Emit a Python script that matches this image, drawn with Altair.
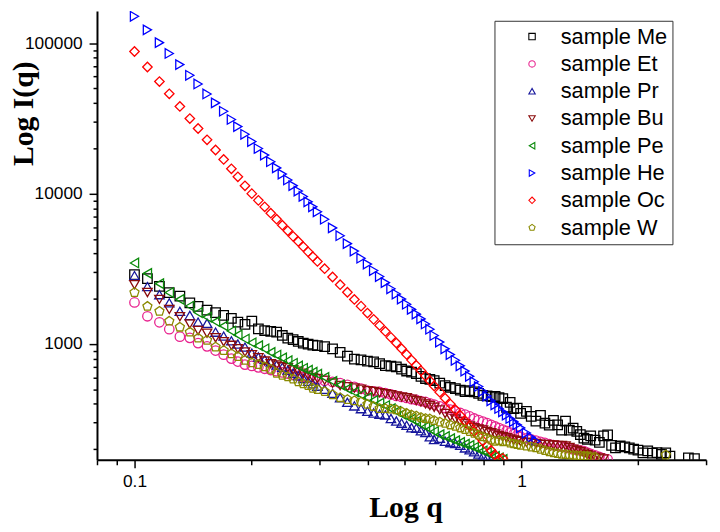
import altair as alt
import pandas as pd

# q grid shared by all samples (log q axis)
Q = [0.100, 0.108, 0.116, 0.123, 0.131, 0.139, 0.146, 0.154, 0.162, 0.170, 0.178, 0.185, 0.193,
     0.201, 0.209, 0.217, 0.225, 0.233, 0.241, 0.249, 0.257, 0.265, 0.273, 0.281, 0.289, 0.297,
     0.310, 0.325, 0.340, 0.355, 0.370, 0.385, 0.400, 0.415, 0.430, 0.445,
     0.460, 0.475, 0.490, 0.505, 0.520, 0.535, 0.550, 0.565, 0.580, 0.595,
     0.615, 0.635, 0.655, 0.675, 0.695, 0.715, 0.735, 0.755, 0.775, 0.795,
     0.815, 0.835, 0.855, 0.875, 0.895, 0.915, 0.935, 0.955, 0.975, 0.995,
     1.03, 1.06, 1.09, 1.12, 1.15, 1.18, 1.21, 1.24, 1.27, 1.30,
     1.33, 1.36, 1.39, 1.42, 1.45, 1.48, 1.51, 1.55, 1.59, 1.63,
     1.67, 1.71, 1.75, 1.80, 1.85, 1.90, 1.95, 2.00, 2.06, 2.12,
     2.18, 2.24, 2.30, 2.36, 2.42, 2.50, 2.60, 2.70, 2.80]

ME = [2890, 2720, 2420, 2200, 2080, 1880, 1780, 1680, 1620, 1550, 1480, 1400, 1350,
      1420, 1260, 1230, 1215, 1200, 1140, 1095, 1070, 1040, 1015, 1000, 985, 975,
      960, 930, 880, 830, 795, 785, 770, 762, 740, 718,
      712, 705, 680, 662, 650, 636, 610, 590, 582, 572,
      550, 530, 516, 506, 494, 483, 490, 481, 470, 456,
      452, 447, 448, 440, 434, 380, 410, 372, 375, 346,
      357, 330, 307, 336, 298, 289, 311, 290, 268, 307,
      268, 276, 263, 250, 237, 232, 245, 230, 222, 245,
      249, 212, 204, 210, 207, 204, 200, 197, 189, 195,
      188, 190, 185, 189, 180, None, None, 175, 173]

ET = [1890, 1530, 1395, 1255, 1120, 1100, 1015, 965, 905, 850, 800, 765, 730,
      715, 700, 685, 672, 660, 648, 636, 625, 615, 605, 596, 588, 580,
      570, 560, 550, 535, 520, 505, 490, 485, 480, 472,
      462, 452, 445, 438, 430, 425, 418, 412, 403, 396,
      385, 375, 366, 357, 348, 340, 330, 320, 312, 305,
      298, 290, 283, 276, 270, 264, 258, 252, 247, 242,
      236, 232, 228, 224, 220, 216, 213, 211, 209, 206,
      203, 200, 198, 196, 194, 190, 186, 182, 178, 174,
      171]

PR = [2850, 2410, 2130, 1880, 1650, 1550, 1400, 1375, 1200, 1130, 1050, 1000, 955,
      870, 820, 790, 760, 725, 700, 670, 640, 615, 590, 565, 545, 525,
      500, 470, 440, 410, 388, 372, 357, 348, 342, 338,
      320, 308, 298, 288, 278, 276, 265, 258, 242, 232,
      236, 226, 221, 218, 212, 204, 198, 192, 186, 180,
      175, 171]

BU = [2480, 2200, 1980, 1700, 1520, 1360, 1230, 1180, 1100, 1035, 980, 930, 885,
      850, 810, 770, 740, 725, 708, 695, 675, 660, 640, 620, 600, 590,
      575, 550, 530, 520, 510, 500, 490, 484, 475, 468,
      460, 452, 445, 440, 430, 420, 412, 400, 390, 380,
      365, 345, 330, 318, 305, 295, 285, 278, 272, 268,
      262, 257, 252, 247, 242, 238, 234, 230, 228, 225,
      222, 220, 218, 216, 215, 214, 213, 212, 212, 210,
      205, 200, 196, 192, 188, 184, 180, 177, 175, 172]

PE = [3460, 2950, 2520, 2200, 1980, 1790, 1620, 1510, 1410, 1320, 1220, 1150, 1080,
      1020, 975, 930, 880, 845, 810, 775, 745, 715, 690, 670, 650, 630,
      600, 565, 535, 505, 480, 460, 440, 422, 405, 390,
      372, 357, 342, 330, 318, 306, 293, 282, 272, 262,
      250, 243, 235, 228, 222, 216, 212, 206, 200, 195,
      190, 184, 179, 175, 171]

HE = [151000, 122700, 100900, 85500, 72100, 61200, 53600, 46000, 40100, 35300, 31100, 27900, 24800,
      22200, 19950, 18030, 16300, 14830, 13490, 12330, 11300, 10400, 9580, 8820, 8170, 7570,
      6760, 5920, 5250, 4650, 4150, 3720, 3400, 3080, 2810, 2560,
      2330, 2150, 1990, 1840, 1700, 1580, 1470, 1360, 1255, 1140,
      1030, 929, 851, 780, 716, 661, 610, 562, 522, 485,
      451, 419, 394, 373, 354, 337, 320, 305, 291, 277,
      256, 240, 226]

OC = [88100, 69500, 55600, 46100, 38000, 31550, 27100, 22800, 19500, 16870, 14620, 12940, 11270,
      10000, 9020, 8170, 7410, 6760, 6170, 5660, 5200, 4810, 4440, 4100, 3810, 3540,
      3170, 2790, 2480, 2210, 1980, 1786, 1607, 1459, 1330, 1213,
      1107, 1016, 931, 853, 782, 721, 665, 614, 570, 526,
      479, 436, 399, 366, 335, 309, 285, 263, 245, 227,
      211, 196, 183, 171, 174]

W = [2200, 1780, 1650, 1420, 1295, 1200, 1095, 1060, 956, 905, 862, 825, 780,
     750, 730, 705, 680, 640, 620, 605, 585, 562, 545, 530, 508, 498,
     483, 460, 440, 428, 420, 412, 398, 385, 373, 372,
     370, 365, 355, 346, 338, 332, 325, 320, 318, 310,
     303, 297, 290, 284, 277, 270, 262, 255, 248, 242,
     236, 230, 226, 228, 224, 226, 220, 217, 215, 212,
     210, 207, 204, 200, 196, 192, 189, 187, 185, 184,
     183, 182, 181, 181, 180, 180, 178, 177, None, None,
     None, None, None, None, None, None, None, None, None, None,
     None, None, None, 183]

SERIES = ["sample Me", "sample Et", "sample Pr", "sample Bu",
          "sample Pe", "sample He", "sample Oc", "sample W"]
VALUES = [ME, ET, PR, BU, PE, HE, OC, W]
COLORS = ["#000000", "#e8238f", "#16169c", "#8b0c0c", "#0b8a0b", "#0000ff", "#ff0000", "#8a8a00"]
PENTAGON = "M0,-1L0.951,-0.309L0.588,0.809L-0.588,0.809L-0.951,-0.309Z"
SHAPES = ["square", "circle", "triangle-up", "triangle-down",
          "triangle-left", "triangle-right", "diamond", PENTAGON]

X_TICKS = [0.08, 0.09, 0.1, 0.2, 0.3, 0.4, 0.5, 0.6, 0.7, 0.8, 0.9, 1, 2, 3]
Y_TICKS = [200, 300, 400, 500, 600, 700, 800, 900,
           1000, 2000, 3000, 4000, 5000, 6000, 7000, 8000, 9000,
           10000, 20000, 30000, 40000, 50000, 60000, 70000, 80000, 90000, 100000]

rows = []
for name, vals in zip(SERIES, VALUES):
    for q, v in zip(Q, vals):
        if v is not None:
            rows.append({"q": q, "I": v, "series": name})
df = pd.DataFrame(rows)

major_x = "datum.value == 0.1 || datum.value == 1"
major_y = "datum.value == 1000 || datum.value == 10000 || datum.value == 100000"

common_axis = dict(
    domainColor="black", domainWidth=2, tickColor="black", tickWidth=1.5,
    labelFont="Liberation Sans", labelFontSize=17.5, labelColor="black",
    labelOverlap=False, labelFlush=False, grid=False,
    titleFont="Liberation Serif", titleFontWeight="bold", titleFontSize=30, titleColor="black",
)

x_axis = alt.Axis(
    values=X_TICKS,
    labelExpr=f"({major_x}) ? '' + datum.value : ''",
    tickSize={"condition": {"test": major_x, "value": 8}, "value": 5},
    labelPadding=5,
    title="Log q", titleX=312, titleY=57, titleAlign="center", titleBaseline="alphabetic",
    **common_axis,
)

y_axis = alt.Axis(
    values=Y_TICKS,
    labelExpr=f"({major_y}) ? '' + datum.value : ''",
    tickSize={"condition": {"test": major_y, "value": 8}, "value": 4},
    labelPadding=7,
    title="Log I(q)", titleAngle=270, titleX=-89, titleY=103.5,
    titleAlign="center", titleBaseline="top",
    **common_axis,
)

legend = alt.Legend(
    title=None, orient="none", legendX=402, legendY=10,
    strokeColor="#333333", fillColor="white", padding=5,
    symbolSize=42, symbolStrokeWidth=1.1, symbolOffset=22, labelOffset=18,
    labelFont="Liberation Sans", labelFontSize=22, labelColor="black",
    rowPadding=5.6, labelLimit=300,
)

chart = alt.Chart(df).mark_point(filled=False, size=92, strokeWidth=1.3, opacity=1, clip=True).encode(
    x=alt.X("q:Q", scale=alt.Scale(type="log", domain=[0.08, 3.0], nice=False), axis=x_axis),
    y=alt.Y("I:Q", scale=alt.Scale(type="log", domain=[170, 164000], nice=False), axis=y_axis),
    color=alt.Color("series:N", scale=alt.Scale(domain=SERIES, range=COLORS), legend=legend),
    shape=alt.Shape("series:N", scale=alt.Scale(domain=SERIES, range=SHAPES), legend=legend),
).properties(
    width=616, height=454,
    autosize=alt.AutoSizeParams(type="none"),
    padding={"left": 90, "top": 0, "right": 6, "bottom": 62},
    background="white",
).configure_view(stroke="transparent")

chart.save("out.html", embed_options={"renderer": "svg", "actions": False})
